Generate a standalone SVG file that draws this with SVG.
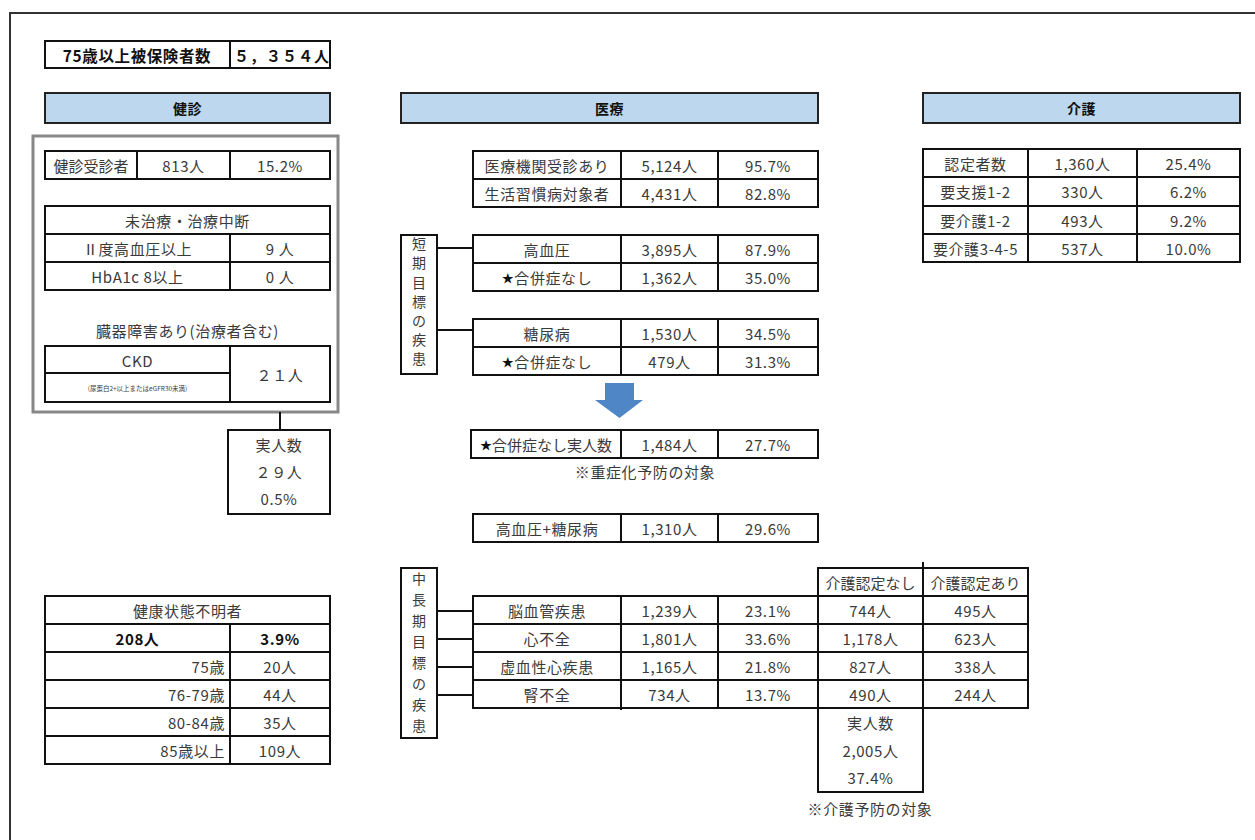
<svg xmlns="http://www.w3.org/2000/svg" width="1255" height="840" viewBox="0 0 1255 840">
<style>
.t{font-family:"Noto Sans CJK JP","Noto Sans",sans-serif;font-size:15px;letter-spacing:0.6px;fill:#3a3a3a;text-anchor:middle;dominant-baseline:central}
.r{text-anchor:end}
.s{text-anchor:start}
.b{font-weight:bold;fill:#111}
.c{fill:#fff;stroke:#111;stroke-width:2}
.h{fill:#bdd7ee;stroke:#222;stroke-width:2}
.ln{stroke:#111;stroke-width:2;fill:none}
.v{font-size:14px;letter-spacing:0}
</style>
<rect width="1255" height="840" fill="#fff"/>
<path d="M10,840 V13 H1255" fill="none" stroke="#333" stroke-width="2"/>

<g id="insured-total">
<rect class="c" x="45" y="41" width="285" height="27"/>
<line class="ln" x1="230" y1="41" x2="230" y2="68"/>
<text class="t b" x="137" y="55" style="font-size:15.5px">75歳以上被保険者数</text>
<text class="t b s" x="234" y="55" style="font-size:15px;letter-spacing:1px">５，３５４人</text>
</g>

<g id="hdr-kenshin"><rect class="h" x="45" y="93" width="285" height="30"/><text class="t b" x="187.5" y="108" style="font-size:14px">健診</text></g>
<g id="hdr-iryo"><rect class="h" x="401" y="93" width="417" height="30"/><text class="t b" x="609.5" y="108" style="font-size:14px">医療</text></g>
<g id="hdr-kaigo"><rect class="h" x="923" y="93" width="317" height="30"/><text class="t b" x="1081.5" y="108" style="font-size:14px">介護</text></g>

<g id="kenshin-frame"><rect x="33" y="136" width="305" height="276" fill="none" stroke="#888" stroke-width="3"/></g>

<g id="kenshin-jushin">
<rect class="c" x="45" y="151" width="285" height="28"/>
<line class="ln" x1="137" y1="151" x2="137" y2="179"/>
<line class="ln" x1="230" y1="151" x2="230" y2="179"/>
<text class="t" x="91" y="165" style="letter-spacing:0">健診受診者</text>
<text class="t" x="183.5" y="165">813人</text>
<text class="t" x="280" y="165">15.2%</text>
</g>

<g id="michiryo">
<rect class="c" x="45" y="206" width="285" height="84"/>
<line class="ln" x1="45" y1="234" x2="330" y2="234"/>
<line class="ln" x1="45" y1="262" x2="330" y2="262"/>
<line class="ln" x1="230" y1="234" x2="230" y2="290"/>
<text class="t" x="187.5" y="220">未治療・治療中断</text>
<text class="t" x="137.5" y="248">Ⅱ度高血圧以上</text>
<text class="t" x="280" y="248">9 人</text>
<text class="t" x="137.5" y="276">HbA1c 8以上</text>
<text class="t" x="280" y="276">0 人</text>
</g>

<g id="ckd">
<text class="t" x="187.5" y="330">臓器障害あり(治療者含む)</text>
<rect class="c" x="45" y="346" width="285" height="56"/>
<line class="ln" x1="45" y1="373" x2="230" y2="373"/>
<line class="ln" x1="230" y1="346" x2="230" y2="402"/>
<text class="t" x="137.5" y="360">CKD</text>
<text class="t" x="137.5" y="388" style="font-size:6.5px;letter-spacing:0">(尿蛋白2+以上またはeGFR30未満)</text>
<text class="t" x="280" y="374">２１人</text>
</g>

<g id="kenshin-jitsu">
<rect class="c" x="228" y="430" width="102" height="84"/>
<text class="t" x="279" y="444">実人数</text>
<text class="t" x="279" y="471">２９人</text>
<text class="t" x="279" y="498">0.5%</text>
</g>

<g id="fumei">
<rect class="c" x="45" y="596" width="285" height="168"/>
<line class="ln" x1="45" y1="624" x2="330" y2="624"/>
<line class="ln" x1="45" y1="652" x2="330" y2="652"/>
<line class="ln" x1="45" y1="680" x2="330" y2="680"/>
<line class="ln" x1="45" y1="708" x2="330" y2="708"/>
<line class="ln" x1="45" y1="736" x2="330" y2="736"/>
<line class="ln" x1="230" y1="624" x2="230" y2="764"/>
<text class="t" x="187.5" y="610">健康状態不明者</text>
<text class="t b" x="137.5" y="638">208人</text>
<text class="t b" x="280" y="638">3.9%</text>
<text class="t r" x="225" y="666">75歳</text><text class="t" x="280" y="666">20人</text>
<text class="t r" x="225" y="694">76-79歳</text><text class="t" x="280" y="694">44人</text>
<text class="t r" x="225" y="722">80-84歳</text><text class="t" x="280" y="722">35人</text>
<text class="t r" x="225" y="750">85歳以上</text><text class="t" x="280" y="750">109人</text>
</g>

<g id="iryo-jushin">
<rect class="c" x="473" y="151" width="345" height="56"/>
<line class="ln" x1="473" y1="179" x2="818" y2="179"/>
<line class="ln" x1="621" y1="151" x2="621" y2="207"/>
<line class="ln" x1="718" y1="151" x2="718" y2="207"/>
<text class="t" x="547" y="165">医療機関受診あり</text><text class="t" x="669.5" y="165">5,124人</text><text class="t" x="768" y="165">95.7%</text>
<text class="t" x="547" y="193">生活習慣病対象者</text><text class="t" x="669.5" y="193">4,431人</text><text class="t" x="768" y="193">82.8%</text>
</g>

<g id="tanki-label">
<rect class="c" x="401" y="235" width="36" height="139"/>
<text class="t v" x="419" y="243">短</text><text class="t v" x="419" y="262">期</text><text class="t v" x="419" y="282">目</text><text class="t v" x="419" y="301">標</text><text class="t v" x="419" y="320">の</text><text class="t v" x="419" y="339">疾</text><text class="t v" x="419" y="358">患</text>
</g>

<g id="koketsuatsu">
<rect class="c" x="473" y="235" width="345" height="56"/>
<line class="ln" x1="473" y1="263" x2="818" y2="263"/>
<line class="ln" x1="621" y1="235" x2="621" y2="291"/>
<line class="ln" x1="718" y1="235" x2="718" y2="291"/>
<text class="t" x="547" y="249">高血圧</text><text class="t" x="669.5" y="249">3,895人</text><text class="t" x="768" y="249">87.9%</text>
<text class="t" x="547" y="277"><tspan fill="#111" font-size="12">★</tspan>合併症なし</text><text class="t" x="669.5" y="277">1,362人</text><text class="t" x="768" y="277">35.0%</text>
</g>

<g id="tonyobyo">
<rect class="c" x="473" y="319" width="345" height="56"/>
<line class="ln" x1="473" y1="347" x2="818" y2="347"/>
<line class="ln" x1="621" y1="319" x2="621" y2="375"/>
<line class="ln" x1="718" y1="319" x2="718" y2="375"/>
<text class="t" x="547" y="333">糖尿病</text><text class="t" x="669.5" y="333">1,530人</text><text class="t" x="768" y="333">34.5%</text>
<text class="t" x="547" y="361"><tspan fill="#111" font-size="12">★</tspan>合併症なし</text><text class="t" x="669.5" y="361">479人</text><text class="t" x="768" y="361">31.3%</text>
</g>

<g id="arrow"><path d="M605,383 H634 V400 H643 L619.5,418 L595,400 H605 Z" fill="#4f86c6"/></g>

<g id="gappei-jitsu">
<rect class="c" x="471" y="430" width="347" height="28"/>
<line class="ln" x1="621" y1="430" x2="621" y2="458"/>
<line class="ln" x1="718" y1="430" x2="718" y2="458"/>
<text class="t" x="546" y="444" style="letter-spacing:0"><tspan fill="#111" font-size="12">★</tspan>合併症なし実人数</text><text class="t" x="669.5" y="444">1,484人</text><text class="t" x="768" y="444">27.7%</text>
<text class="t" x="645" y="471">※重症化予防の対象</text>
</g>

<g id="ketsu-to">
<rect class="c" x="473" y="514" width="345" height="28"/>
<line class="ln" x1="621" y1="514" x2="621" y2="542"/>
<line class="ln" x1="718" y1="514" x2="718" y2="542"/>
<text class="t" x="547" y="528">高血圧+糖尿病</text><text class="t" x="669.5" y="528">1,310人</text><text class="t" x="768" y="528">29.6%</text>
</g>

<g id="chuchoki-label">
<rect class="c" x="401" y="568" width="36" height="170"/>
<text class="t v" x="419" y="578">中</text><text class="t v" x="419" y="599">長</text><text class="t v" x="419" y="620">期</text><text class="t v" x="419" y="641">目</text><text class="t v" x="419" y="662">標</text><text class="t v" x="419" y="683">の</text><text class="t v" x="419" y="704">疾</text><text class="t v" x="419" y="725">患</text>
</g>

<g id="chuchoki-table">
<rect class="c" x="818" y="568" width="210" height="28"/>
<line class="ln" x1="923" y1="562" x2="923" y2="596"/>
<text class="t" x="870.5" y="582" style="letter-spacing:0">介護認定なし</text><text class="t" x="975.5" y="582" style="letter-spacing:0">介護認定あり</text>
<rect class="c" x="473" y="596" width="555" height="112"/>
<line class="ln" x1="473" y1="624" x2="1028" y2="624"/>
<line class="ln" x1="473" y1="652" x2="1028" y2="652"/>
<line class="ln" x1="473" y1="680" x2="1028" y2="680"/>
<line class="ln" x1="621" y1="596" x2="621" y2="710"/>
<line class="ln" x1="718" y1="596" x2="718" y2="708"/>
<line class="ln" x1="818" y1="596" x2="818" y2="708"/>
<line class="ln" x1="923" y1="596" x2="923" y2="708"/>
<text class="t" x="547" y="610">脳血管疾患</text><text class="t" x="669.5" y="610">1,239人</text><text class="t" x="768" y="610">23.1%</text><text class="t" x="870.5" y="610">744人</text><text class="t" x="975.5" y="610">495人</text>
<text class="t" x="547" y="638">心不全</text><text class="t" x="669.5" y="638">1,801人</text><text class="t" x="768" y="638">33.6%</text><text class="t" x="870.5" y="638">1,178人</text><text class="t" x="975.5" y="638">623人</text>
<text class="t" x="547" y="666">虚血性心疾患</text><text class="t" x="669.5" y="666">1,165人</text><text class="t" x="768" y="666">21.8%</text><text class="t" x="870.5" y="666">827人</text><text class="t" x="975.5" y="666">338人</text>
<text class="t" x="547" y="694">腎不全</text><text class="t" x="669.5" y="694">734人</text><text class="t" x="768" y="694">13.7%</text><text class="t" x="870.5" y="694">490人</text><text class="t" x="975.5" y="694">244人</text>
</g>

<g id="kaigo-jitsu">
<rect class="c" x="818" y="708" width="105" height="84"/>
<text class="t" x="870.5" y="722">実人数</text>
<text class="t" x="870.5" y="750">2,005人</text>
<text class="t" x="870.5" y="777">37.4%</text>
<text class="t" x="870" y="808">※介護予防の対象</text>
</g>

<g id="kaigo-table">
<rect class="c" x="923" y="149" width="317" height="113"/>
<line class="ln" x1="923" y1="177" x2="1240" y2="177"/>
<line class="ln" x1="923" y1="206" x2="1240" y2="206"/>
<line class="ln" x1="923" y1="234" x2="1240" y2="234"/>
<line class="ln" x1="1028" y1="149" x2="1028" y2="262"/>
<line class="ln" x1="1137" y1="149" x2="1137" y2="262"/>
<text class="t" x="975.5" y="163">認定者数</text><text class="t" x="1082.5" y="163">1,360人</text><text class="t" x="1188.5" y="163">25.4%</text>
<text class="t" x="975.5" y="191.5">要支援1-2</text><text class="t" x="1082.5" y="191.5">330人</text><text class="t" x="1188.5" y="191.5">6.2%</text>
<text class="t" x="975.5" y="220">要介護1-2</text><text class="t" x="1082.5" y="220">493人</text><text class="t" x="1188.5" y="220">9.2%</text>
<text class="t" x="975.5" y="248">要介護3-4-5</text><text class="t" x="1082.5" y="248">537人</text><text class="t" x="1188.5" y="248">10.0%</text>
</g>

<g id="connectors">
<line class="ln" x1="280" y1="412" x2="280" y2="430"/>
<line class="ln" x1="437" y1="248" x2="473" y2="248"/>
<line class="ln" x1="437" y1="330" x2="473" y2="330"/>
<line class="ln" x1="437" y1="611" x2="473" y2="611"/>
<line class="ln" x1="437" y1="639" x2="473" y2="639"/>
<line class="ln" x1="437" y1="667" x2="473" y2="667"/>
<line class="ln" x1="437" y1="695" x2="473" y2="695"/>
</g>
</svg>
